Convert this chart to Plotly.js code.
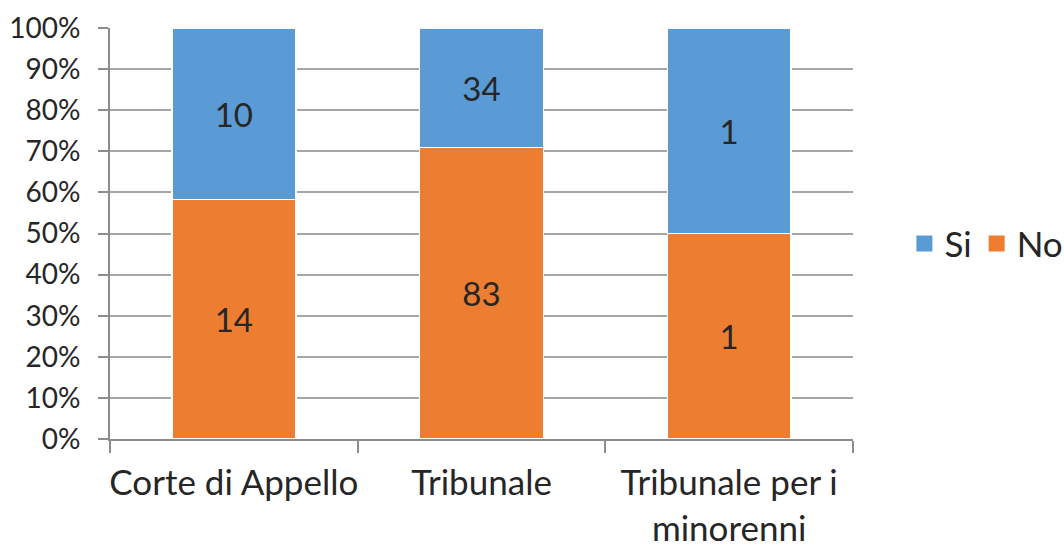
<!DOCTYPE html>
<html>
<head>
<meta charset="utf-8">
<script src="https://cdn.plot.ly/plotly-3.0.1.min.js"></script>
<style>html,body{margin:0;padding:0;background:#fff;}#chart{width:1064px;height:548px;}</style>
</head>
<body>
<div id="chart"></div>
<script>
const categories = ["Corte di Appello", "Tribunale", "Tribunale per i<br>minorenni"];
const noValues = [14, 83, 1];
const siValues = [10, 34, 1];
const yTickValues = [0, 10, 20, 30, 40, 50, 60, 70, 80, 90, 100];
const seriesNames = ["Si", "No"];
const seriesColors = {Si: "#5B9BD5", No: "#ED7D31"};

const fontFam = "Lato, 'Open Sans', sans-serif";
const textColor = "#262626";

const traces = [
  {
    type: "bar", name: "No", x: categories, y: noValues,
    text: noValues.map(String), textposition: "inside", insidetextanchor: "middle",
    textfont: {family: fontFam, size: 33, color: textColor},
    marker: {color: seriesColors.No, line: {color: "#ffffff", width: 1.5}},
    showlegend: false, hoverinfo: "skip"
  },
  {
    type: "bar", name: "Si", x: categories, y: siValues,
    text: siValues.map(String), textposition: "inside", insidetextanchor: "middle",
    textfont: {family: fontFam, size: 33, color: textColor},
    marker: {color: seriesColors.Si, line: {color: "#ffffff", width: 1.5}},
    showlegend: false, hoverinfo: "skip"
  }
];
// legend entries (Si first, then No)
seriesNames.forEach(n => {
  traces.push({
    type: "scatter", mode: "markers", name: n, x: [null], y: [null],
    marker: {symbol: "square", size: 22, color: seriesColors[n]},
    showlegend: true, hoverinfo: "skip"
  });
});

const layout = {
  width: 1064, height: 548,
  margin: {l: 110, r: 211, t: 28, b: 109, autoexpand: false},
  paper_bgcolor: "#ffffff", plot_bgcolor: "#ffffff",
  barmode: "stack", barnorm: "percent", bargap: 0.5,
  font: {family: fontFam, color: textColor, size: 28},
  xaxis: {
    type: "category", showline: true, linecolor: "#8c8c8c", linewidth: 2,
    ticks: "outside", tickson: "boundaries", ticklen: 12, tickcolor: "#8c8c8c", tickwidth: 2,
    tickfont: {family: fontFam, size: 35, color: textColor},
    tickangle: 0, ticklabelstandoff: 12, automargin: false,
    showgrid: false, fixedrange: true
  },
  yaxis: {
    range: [0, 100], tickvals: yTickValues, ticktext: yTickValues.map(v => v + "%"),
    showline: true, linecolor: "#8c8c8c", linewidth: 2,
    ticks: "outside", ticklen: 10, tickcolor: "#8c8c8c", tickwidth: 2,
    showgrid: true, gridcolor: "#a6a6a6", gridwidth: 2,
    zeroline: false, automargin: false,
    tickfont: {family: fontFam, size: 28, color: textColor},
    ticklabelstandoff: 12,
    fixedrange: true
  },
  showlegend: true,
  legend: {
    orientation: "h", xref: "container", yref: "container",
    x: 0.85, xanchor: "left", y: 0.555, yanchor: "middle",
    font: {family: fontFam, size: 35, color: textColor},
    itemwidth: 30, itemsizing: "trace", traceorder: "normal"
  }
};

Plotly.newPlot("chart", traces, layout, {displayModeBar: false, staticPlot: true});
</script>
</body>
</html>
